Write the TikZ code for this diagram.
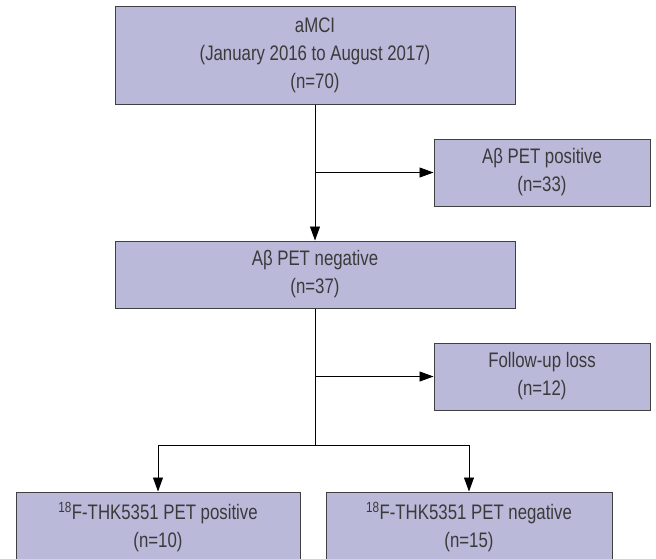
\documentclass[tikz,border=0pt]{standalone}
\usepackage{fontspec}
\setmainfont{Liberation Sans}[FakeStretch=0.8]
\usetikzlibrary{arrows.meta}
\definecolor{boxfill}{RGB}{187,185,217}
\definecolor{inktext}{RGB}{58,58,58}
\begin{document}
\begin{tikzpicture}[x=1pt, y=1pt,
  flowbox/.style={draw=black!75, line width=1pt, fill=boxfill, align=center,
    text=inktext, font=\fontsize{21}{28}\selectfont, inner sep=0pt},
  link/.style={line width=0.8pt, -{Triangle[length=14pt, width=10pt]}}]
\useasboundingbox (0,0) rectangle (656,-558);
\node[flowbox, minimum width=400, minimum height=98] (amci) at (315,-55) {aMCI\\(January 2016 to August 2017)\\(n=70)};
\node[flowbox, minimum width=216, minimum height=67] (pos) at (542,-172.5) {Aβ PET positive\\(n=33)};
\node[flowbox, minimum width=400, minimum height=67] (neg) at (315,-274.5) {Aβ PET negative\\(n=37)};
\node[flowbox, minimum width=216, minimum height=67] (loss) at (542,-376.5) {Follow-up loss\\(n=12)};
\node[flowbox, minimum width=284, minimum height=70] (thkpos) at (158,-527) {\textsuperscript{18}F-THK5351 PET positive\\(n=10)};
\node[flowbox, minimum width=286, minimum height=70] (thkneg) at (469,-527) {\textsuperscript{18}F-THK5351 PET negative\\(n=15)};
\coordinate (fork) at (315,-445);
\draw[link] (amci) -- (neg);
\draw[link] (amci.south |- pos) -- (pos);
\draw[link] (neg.south |- loss) -- (loss);
\draw[line width=0.8pt] (neg) -- (fork);
\draw[link] (fork) -| (thkpos);
\draw[link] (fork) -| (thkneg);
\end{tikzpicture}
\end{document}
